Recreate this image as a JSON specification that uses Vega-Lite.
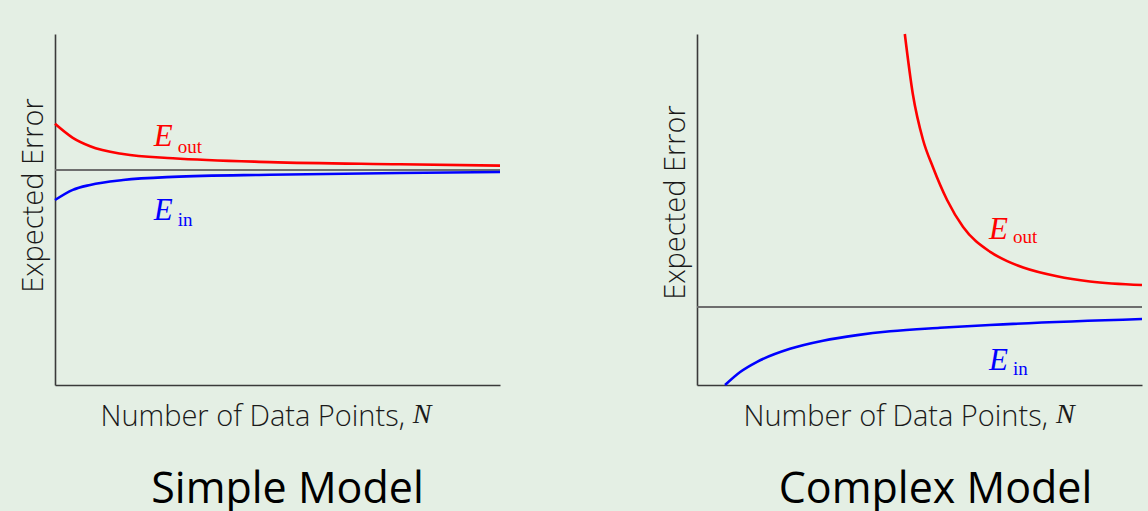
{
  "$schema": "https://vega.github.io/schema/vega-lite/v6.json",
  "background": "#e4efe4",
  "padding": {"left": 19, "top": 28, "right": 4, "bottom": 0},
  "spacing": 155,
  "config": {
    "view": {"stroke": null},
    "axis": {
      "grid": false, "ticks": false, "labels": false, "domain": true,
      "domainColor": "#3a3a3a", "domainWidth": 1.6,
      "titleFont": "Open Sans", "titleFontWeight": 300, "titleFontSize": 29, "titleColor": "#1a1a1a"
    },
    "title": {"font": "Open Sans", "fontSize": 43, "fontWeight": "normal", "color": "#000000", "orient": "bottom", "offset": 38}
  },
  "datasets": {
    "curves": [
      {"panel": "simple", "series": "Eout", "N": 0, "E": 7.44},
      {"panel": "simple", "series": "Eout", "N": 4.0, "E": 7.04},
      {"panel": "simple", "series": "Eout", "N": 7.9, "E": 6.80},
      {"panel": "simple", "series": "Eout", "N": 15.3, "E": 6.58},
      {"panel": "simple", "series": "Eout", "N": 26.5, "E": 6.46},
      {"panel": "simple", "series": "Eout", "N": 48.3, "E": 6.35},
      {"panel": "simple", "series": "Eout", "N": 77.5, "E": 6.29},
      {"panel": "simple", "series": "Eout", "N": 100, "E": 6.25},
      {"panel": "simple", "series": "Ein", "N": 0, "E": 5.27},
      {"panel": "simple", "series": "Ein", "N": 4.0, "E": 5.56},
      {"panel": "simple", "series": "Ein", "N": 7.9, "E": 5.70},
      {"panel": "simple", "series": "Ein", "N": 15.3, "E": 5.84},
      {"panel": "simple", "series": "Ein", "N": 26.5, "E": 5.93},
      {"panel": "simple", "series": "Ein", "N": 48.3, "E": 5.99},
      {"panel": "simple", "series": "Ein", "N": 77.5, "E": 6.04},
      {"panel": "simple", "series": "Ein", "N": 100, "E": 6.07},
      {"panel": "complex", "series": "Eout", "N": 46.7, "E": 10.0},
      {"panel": "complex", "series": "Eout", "N": 48.5, "E": 8.29},
      {"panel": "complex", "series": "Eout", "N": 50.8, "E": 6.98},
      {"panel": "complex", "series": "Eout", "N": 53.0, "E": 6.21},
      {"panel": "complex", "series": "Eout", "N": 56.2, "E": 5.27},
      {"panel": "complex", "series": "Eout", "N": 59.8, "E": 4.50},
      {"panel": "complex", "series": "Eout", "N": 65.8, "E": 3.80},
      {"panel": "complex", "series": "Eout", "N": 69.7, "E": 3.53},
      {"panel": "complex", "series": "Eout", "N": 73.3, "E": 3.35},
      {"panel": "complex", "series": "Eout", "N": 80.9, "E": 3.10},
      {"panel": "complex", "series": "Eout", "N": 88.3, "E": 2.95},
      {"panel": "complex", "series": "Eout", "N": 100, "E": 2.85},
      {"panel": "complex", "series": "Ein", "N": 6.3, "E": 0},
      {"panel": "complex", "series": "Ein", "N": 9.7, "E": 0.37},
      {"panel": "complex", "series": "Ein", "N": 13.5, "E": 0.66},
      {"panel": "complex", "series": "Ein", "N": 20.9, "E": 1.03},
      {"panel": "complex", "series": "Ein", "N": 28.3, "E": 1.26},
      {"panel": "complex", "series": "Ein", "N": 36.0, "E": 1.42},
      {"panel": "complex", "series": "Ein", "N": 43.4, "E": 1.53},
      {"panel": "complex", "series": "Ein", "N": 54.6, "E": 1.63},
      {"panel": "complex", "series": "Ein", "N": 65.8, "E": 1.71},
      {"panel": "complex", "series": "Ein", "N": 100, "E": 1.88}
    ],
    "levels": [
      {"panel": "simple", "level": 6.125},
      {"panel": "complex", "level": 2.22}
    ],
    "labels": [
      {"panel": "simple", "series": "Eout", "main": "E", "sub": "out", "N": 22.2, "E": 6.81, "Nsub": 27.6, "Esub": 6.61},
      {"panel": "simple", "series": "Ein", "main": "E", "sub": "in", "N": 22.2, "E": 4.70, "Nsub": 27.6, "Esub": 4.53},
      {"panel": "complex", "series": "Eout", "main": "E", "sub": "out", "N": 65.6, "E": 4.16, "Nsub": 71.0, "Esub": 4.05},
      {"panel": "complex", "series": "Ein", "main": "E", "sub": "in", "N": 65.6, "E": 0.43, "Nsub": 71.0, "Esub": 0.28}
    ],
    "nlabels": [
      {"panel": "simple", "text": "N", "N": 80.4, "E": -1.08},
      {"panel": "complex", "text": "N", "N": 80.7, "E": -1.08}
    ]
  },
  "hconcat": [
    {
      "width": 445, "height": 351,
      "title": {"text": "Simple Model", "dx": 10},
      "layer": [
        {
          "data": {"name": "levels"},
          "transform": [{"filter": "datum.panel === 'simple'"}],
          "mark": {"type": "rule", "color": "#6e6e6e", "strokeWidth": 2},
          "encoding": {"y": {"field": "level", "type": "quantitative", "scale": {"domain": [0, 10], "nice": false}}}
        },
        {
          "data": {"name": "curves"},
          "transform": [{"filter": "datum.panel === 'simple'"}],
          "mark": {"type": "line", "strokeWidth": 2.6, "interpolate": "monotone"},
          "encoding": {
            "x": {"field": "N", "type": "quantitative", "scale": {"domain": [0, 100], "nice": false},
                  "axis": {"title": "Number of Data Points,", "titleX": 45, "titleY": 40, "titleAlign": "left", "titleBaseline": "alphabetic"}},
            "y": {"field": "E", "type": "quantitative", "scale": {"domain": [0, 10], "nice": false},
                  "axis": {"title": "Expected Error", "titlePadding": 7, "titleY": 161}},
            "color": {"field": "series", "type": "nominal", "scale": {"domain": ["Eout", "Ein"], "range": ["#ff0000", "#0000ff"]}, "legend": null},
            "detail": {"field": "series"}
          }
        },
        {
          "data": {"name": "labels"},
          "transform": [{"filter": "datum.panel === 'simple'"}],
          "mark": {"type": "text", "font": "Liberation Serif", "fontStyle": "italic", "fontSize": 31, "align": "left", "baseline": "alphabetic"},
          "encoding": {
            "x": {"field": "N", "type": "quantitative"},
            "y": {"field": "E", "type": "quantitative"},
            "text": {"field": "main"},
            "color": {"field": "series", "type": "nominal", "legend": null}
          }
        },
        {
          "data": {"name": "labels"},
          "transform": [{"filter": "datum.panel === 'simple'"}],
          "mark": {"type": "text", "font": "Liberation Serif", "fontSize": 19, "align": "left", "baseline": "alphabetic"},
          "encoding": {
            "x": {"field": "Nsub", "type": "quantitative"},
            "y": {"field": "Esub", "type": "quantitative"},
            "text": {"field": "sub"},
            "color": {"field": "series", "type": "nominal", "legend": null}
          }
        },
        {
          "data": {"name": "nlabels"},
          "transform": [{"filter": "datum.panel === 'simple'"}],
          "mark": {"type": "text", "font": "Liberation Serif", "fontStyle": "italic", "fontSize": 28, "align": "left", "baseline": "alphabetic", "color": "#1a1a1a"},
          "encoding": {
            "x": {"field": "N", "type": "quantitative"},
            "y": {"field": "E", "type": "quantitative"},
            "text": {"field": "text"}
          }
        }
      ]
    },
    {
      "width": 445, "height": 351,
      "title": {"text": "Complex Model", "dx": 16},
      "layer": [
        {
          "data": {"name": "levels"},
          "transform": [{"filter": "datum.panel === 'complex'"}],
          "mark": {"type": "rule", "color": "#6e6e6e", "strokeWidth": 2},
          "encoding": {"y": {"field": "level", "type": "quantitative", "scale": {"domain": [0, 10], "nice": false}}}
        },
        {
          "data": {"name": "curves"},
          "transform": [{"filter": "datum.panel === 'complex'"}],
          "mark": {"type": "line", "strokeWidth": 2.6, "interpolate": "monotone"},
          "encoding": {
            "x": {"field": "N", "type": "quantitative", "scale": {"domain": [0, 100], "nice": false},
                  "axis": {"title": "Number of Data Points,", "titleX": 46, "titleY": 40, "titleAlign": "left", "titleBaseline": "alphabetic"}},
            "y": {"field": "E", "type": "quantitative", "scale": {"domain": [0, 10], "nice": false},
                  "axis": {"title": "Expected Error", "titlePadding": 7, "titleY": 168}},
            "color": {"field": "series", "type": "nominal", "scale": {"domain": ["Eout", "Ein"], "range": ["#ff0000", "#0000ff"]}, "legend": null},
            "detail": {"field": "series"}
          }
        },
        {
          "data": {"name": "labels"},
          "transform": [{"filter": "datum.panel === 'complex'"}],
          "mark": {"type": "text", "font": "Liberation Serif", "fontStyle": "italic", "fontSize": 31, "align": "left", "baseline": "alphabetic"},
          "encoding": {
            "x": {"field": "N", "type": "quantitative"},
            "y": {"field": "E", "type": "quantitative"},
            "text": {"field": "main"},
            "color": {"field": "series", "type": "nominal", "legend": null}
          }
        },
        {
          "data": {"name": "labels"},
          "transform": [{"filter": "datum.panel === 'complex'"}],
          "mark": {"type": "text", "font": "Liberation Serif", "fontSize": 19, "align": "left", "baseline": "alphabetic"},
          "encoding": {
            "x": {"field": "Nsub", "type": "quantitative"},
            "y": {"field": "Esub", "type": "quantitative"},
            "text": {"field": "sub"},
            "color": {"field": "series", "type": "nominal", "legend": null}
          }
        },
        {
          "data": {"name": "nlabels"},
          "transform": [{"filter": "datum.panel === 'complex'"}],
          "mark": {"type": "text", "font": "Liberation Serif", "fontStyle": "italic", "fontSize": 28, "align": "left", "baseline": "alphabetic", "color": "#1a1a1a"},
          "encoding": {
            "x": {"field": "N", "type": "quantitative"},
            "y": {"field": "E", "type": "quantitative"},
            "text": {"field": "text"}
          }
        }
      ]
    }
  ]
}
